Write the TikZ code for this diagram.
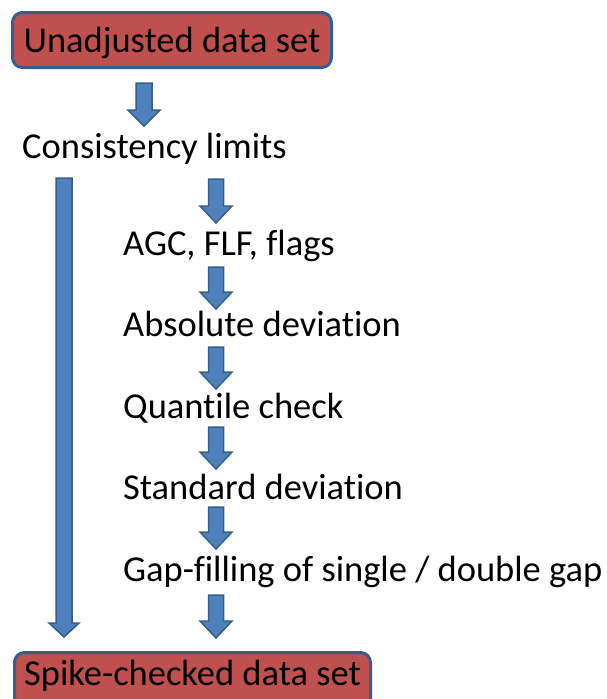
\documentclass[tikz,border=0pt]{standalone}
\usepackage{fontspec}
\setmainfont[Ligatures={NoCommon}]{Carlito}
\usetikzlibrary{calc}
\definecolor{boxred}{HTML}{C0504D}
\definecolor{edgeblue}{HTML}{385D8A}
\definecolor{arrowblue}{HTML}{4F81BD}
\tikzset{
  stage/.style={anchor=base west, inner sep=0pt, font=\fontsize{36.5}{43}\selectfont},
  databox/.style={draw=edgeblue, fill=boxred, line width=3pt, rounded corners=10pt,
    inner sep=0pt, text height=24pt, text depth=0pt, font=\fontsize{36.5}{43}\selectfont},
  blockarrow/.style={fill=arrowblue, draw=edgeblue, line width=1.5pt, line join=miter},
}
% Block arrow pointing down: start, tip, shaft half-width, head half-width, head length
\newcommand{\blockarrow}[5]{%
  \filldraw[blockarrow] let \p1=(#1), \p2=(#2) in
    (\x1-#3,\y1) -- (\x1+#3,\y1) -- (\x1+#3,\y2+#5) -- (\x1+#4,\y2+#5) -- (\x2,\y2)
    -- (\x1-#4,\y2+#5) -- (\x1-#3,\y2+#5) -- cycle;}

\begin{document}
\begin{tikzpicture}[x=1pt,y=-1pt]
\useasboundingbox (0,0) rectangle (606,699);

% data sets
\node[databox, minimum width=319pt, minimum height=55pt] (raw) at (172,40) {Unadjusted data set};
\node[databox, minimum width=356pt, minimum height=65pt, text depth=24pt] (spike) at (192.5,685) {Spike-checked data set};

% processing steps
\node[stage] (cons)  at (22,158)  {Consistency limits};
\node[stage] (agc)   at (123,255) {AGC, FLF, flags};
\node[stage] (absd)  at (123,336) {Absolute deviation};
\node[stage] (quant) at (123,418) {Quantile check};
\node[stage] (std)   at (123,499) {Standard deviation};
\node[stage] (gap)   at (123,581) {Gap-filling of single / double gap};

% arrow end points
\coordinate (a1s) at (144,83);  \coordinate (a1t) at (144,126);
\coordinate (a2s) at (216,179); \coordinate (a2t) at (216,223);
\coordinate (a3s) at (216,267); \coordinate (a3t) at (216,309);
\coordinate (a4s) at (216,347); \coordinate (a4t) at (216,389);
\coordinate (a5s) at (216,427); \coordinate (a5t) at (216,469);
\coordinate (a6s) at (216,507); \coordinate (a6t) at (216,549);
\coordinate (a7s) at (216,595); \coordinate (a7t) at (216,638);
\coordinate (bys) at (64,178);  \coordinate (byt) at (64,637);

\blockarrow{a1s}{a1t}{8pt}{16pt}{16pt}
\blockarrow{a2s}{a2t}{7.5pt}{16pt}{17pt}
\blockarrow{a3s}{a3t}{7.5pt}{16pt}{17pt}
\blockarrow{a4s}{a4t}{7.5pt}{16pt}{17pt}
\blockarrow{a5s}{a5t}{7.5pt}{16pt}{17pt}
\blockarrow{a6s}{a6t}{7.5pt}{16pt}{17pt}
\blockarrow{a7s}{a7t}{7.5pt}{16pt}{17pt}
\blockarrow{bys}{byt}{8pt}{15pt}{14pt}
\end{tikzpicture}
\end{document}
